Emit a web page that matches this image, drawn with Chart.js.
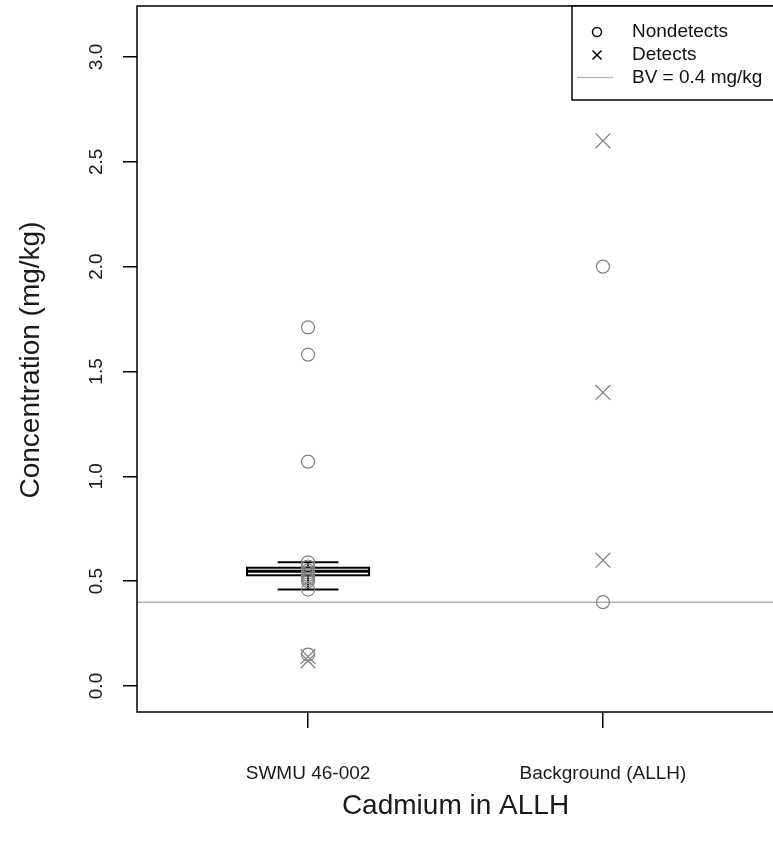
<!DOCTYPE html>
<html>
<head>
<meta charset="utf-8">
<script src="https://cdn.jsdelivr.net/npm/chart.js@4/dist/chart.umd.min.js"></script>
<style>
  html, body { margin: 0; padding: 0; background: #fff; }
  #wrap { width: 773px; height: 853px; overflow: hidden; position: relative; }
  canvas { display: block; }
</style>
</head>
<body>
<div id="wrap"><canvas id="c" width="776" height="853" style="width:776px;height:853px"></canvas></div>
<script>
// Groups along the x axis (placed at 1 and 2)
const categories = ['SWMU 46-002', 'Background (ALLH)'];
const yTicks = [0, 0.5, 1.0, 1.5, 2.0, 2.5, 3.0];

// Cadmium results, mg/kg
const swmuNondetects = [1.71, 1.58, 1.07, 0.59, 0.57, 0.55, 0.54, 0.53, 0.52, 0.51, 0.50, 0.46, 0.15];
const swmuDetects = [0.14, 0.12];
const bgNondetects = [2.0, 0.4];
const bgDetects = [2.6, 1.4, 0.6];

// Box summary for SWMU 46-002: lower whisker, Q1, median, Q3, upper whisker
const swmuBoxStats = [0.46, 0.528, 0.547, 0.564, 0.59];

// Background value
const bvValue = 0.4;
const legendLabels = ['Nondetects', 'Detects', 'BV = 0.4 mg/kg'];
const xTitle = 'Cadmium in ALLH';
const yTitle = 'Concentration (mg/kg)';

const FONT = '"Liberation Sans", Arial, sans-serif';
const GREY = '#808080';

const pts = (xPos, vals) => vals.map(v => ({ x: xPos, y: v }));

const overlay = {
  id: 'overlay',
  beforeDatasetsDraw(chart) {
    const { ctx, chartArea: a, scales: { x, y } } = chart;
    ctx.save();
    // background value reference line
    const yb = y.getPixelForValue(bvValue);
    ctx.strokeStyle = '#b4b4b4';
    ctx.lineWidth = 1.5;
    ctx.beginPath(); ctx.moveTo(a.left, yb); ctx.lineTo(a.right, yb); ctx.stroke();

    // box and whiskers
    const [lo, q1, med, q3, hi] = swmuBoxStats;
    const boxHalf = 0.207, capHalf = 0.103;
    const xl = x.getPixelForValue(1 - boxHalf), xr = x.getPixelForValue(1 + boxHalf);
    const cl = x.getPixelForValue(1 - capHalf), cr = x.getPixelForValue(1 + capHalf);
    const xc = x.getPixelForValue(1);
    ctx.strokeStyle = '#000';
    ctx.lineWidth = 2;
    ctx.beginPath();
    ctx.moveTo(xc, y.getPixelForValue(hi)); ctx.lineTo(xc, y.getPixelForValue(q3));
    ctx.moveTo(xc, y.getPixelForValue(q1)); ctx.lineTo(xc, y.getPixelForValue(lo));
    ctx.moveTo(cl, y.getPixelForValue(hi)); ctx.lineTo(cr, y.getPixelForValue(hi));
    ctx.moveTo(cl, y.getPixelForValue(lo)); ctx.lineTo(cr, y.getPixelForValue(lo));
    ctx.stroke();
    ctx.strokeRect(xl, y.getPixelForValue(q3), xr - xl, y.getPixelForValue(q1) - y.getPixelForValue(q3));
    ctx.lineWidth = 3;
    ctx.beginPath();
    ctx.moveTo(xl, y.getPixelForValue(med)); ctx.lineTo(xr, y.getPixelForValue(med));
    ctx.stroke();
    ctx.restore();
  },
  afterDraw(chart) {
    const { ctx, chartArea: a, scales: { x, y } } = chart;
    ctx.save();
    // plot frame
    ctx.strokeStyle = '#000';
    ctx.lineWidth = 1.5;
    ctx.strokeRect(a.left, a.top, a.right - a.left, a.bottom - a.top);

    // y tick labels, rotated
    ctx.fillStyle = '#1a1a1a';
    ctx.font = '19px ' + FONT;
    ctx.textAlign = 'center';
    ctx.textBaseline = 'middle';
    y.ticks.forEach(t => {
      const py = y.getPixelForValue(t.value);
      ctx.save();
      ctx.translate(97, py);
      ctx.rotate(-Math.PI / 2);
      ctx.fillText(t.value.toFixed(1), 0, 0);
      ctx.restore();
    });
    // x tick labels
    x.ticks.forEach(t => {
      ctx.fillText(categories[t.value - 1], x.getPixelForValue(t.value), 774);
    });
    // axis titles
    ctx.font = '28px ' + FONT;
    ctx.fillText(xTitle, (a.left + a.right) / 2, 806);
    ctx.save();
    ctx.translate(31, 360);
    ctx.rotate(-Math.PI / 2);
    ctx.fillText(yTitle, 0, 0);
    ctx.restore();

    // legend
    const lx = 572, ly = a.top, lb = 100;
    ctx.fillStyle = '#fff';
    ctx.fillRect(lx, ly, a.right - lx, lb - ly);
    ctx.strokeStyle = '#000';
    ctx.lineWidth = 1.5;
    ctx.strokeRect(lx, ly, a.right - lx + 2, lb - ly);
    ctx.beginPath(); ctx.arc(597, 32, 4.5, 0, Math.PI * 2); ctx.stroke();
    ctx.beginPath();
    ctx.moveTo(592.5, 50.5); ctx.lineTo(601.5, 59.5);
    ctx.moveTo(601.5, 50.5); ctx.lineTo(592.5, 59.5);
    ctx.stroke();
    ctx.strokeStyle = '#bdbdbd';
    ctx.beginPath(); ctx.moveTo(577, 77.5); ctx.lineTo(613, 77.5); ctx.stroke();
    ctx.fillStyle = '#111';
    ctx.font = '19px ' + FONT;
    ctx.textAlign = 'left';
    legendLabels.forEach((s, i) => ctx.fillText(s, 632, 32 + i * 22.8));
    ctx.restore();
  }
};

const circleStyle = { pointStyle: 'circle', pointRadius: 6.5, pointBorderColor: GREY, pointBackgroundColor: 'rgba(0,0,0,0)', pointBorderWidth: 1.2, showLine: false };
const crossStyle = { pointStyle: 'crossRot', pointRadius: 10.5, pointBorderColor: GREY, pointBackgroundColor: GREY, pointBorderWidth: 1.2, showLine: false };

new Chart(document.getElementById('c'), {
  type: 'scatter',
  data: {
    datasets: [
      { label: 'Nondetects', data: pts(1, swmuNondetects), ...circleStyle },
      { label: 'Detects', data: pts(1, swmuDetects), ...crossStyle },
      { label: 'Nondetects', data: pts(2, bgNondetects), ...circleStyle },
      { label: 'Detects', data: pts(2, bgDetects), ...crossStyle }
    ]
  },
  options: {
    responsive: false,
    animation: false,
    devicePixelRatio: 1,
    layout: { autoPadding: false, padding: { left: 0, top: 6, right: 2, bottom: 0 } },
    plugins: { legend: { display: false }, tooltip: { enabled: false } },
    scales: {
      x: {
        type: 'linear', min: 0.42, max: 2.58,
        afterBuildTicks: s => { s.ticks = categories.map((c, i) => ({ value: i + 1 })); },
        afterFit: s => { s.height = 141; },
        ticks: { display: false },
        border: { display: false },
        grid: { drawOnChartArea: false, drawTicks: true, tickLength: 16, color: '#000', lineWidth: 1.5 }
      },
      y: {
        type: 'linear', min: -0.124, max: 3.243,
        afterBuildTicks: s => { s.ticks = yTicks.map(v => ({ value: v })); },
        afterFit: s => { s.width = 137; },
        ticks: { display: false },
        border: { display: false },
        grid: { drawOnChartArea: false, drawTicks: true, tickLength: 14, color: '#000', lineWidth: 1.5 }
      }
    }
  },
  plugins: [overlay]
});
</script>
</body>
</html>
